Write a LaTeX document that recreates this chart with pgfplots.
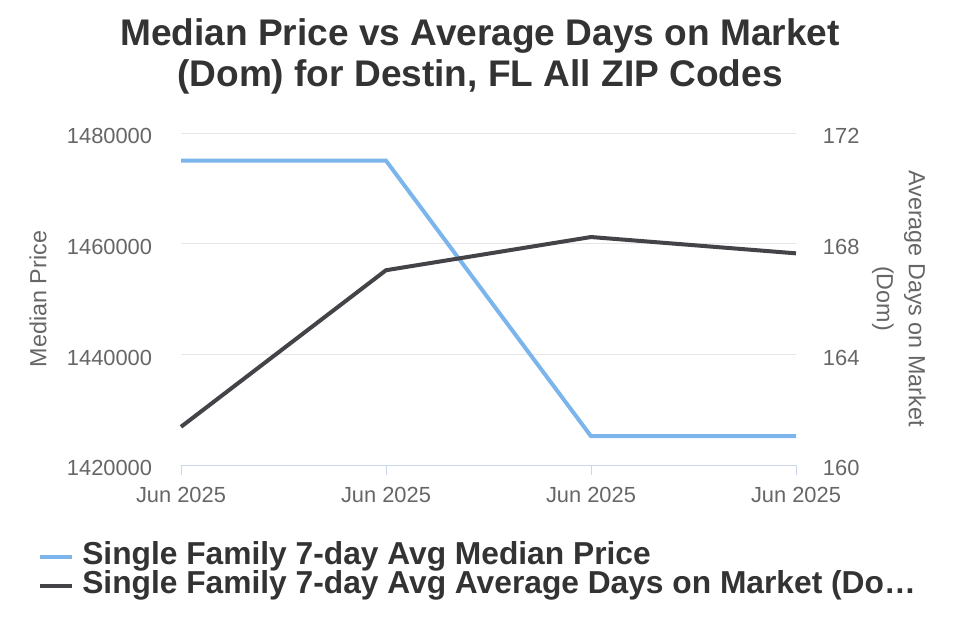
\documentclass[border=0pt]{standalone}
\usepackage{pgfplots}
\pgfplotsset{compat=1.18}
\usepackage{fontspec}
\setmainfont{Liberation Sans}
\definecolor{hcblue}{HTML}{7CB5EC}
\definecolor{hcdark}{HTML}{434348}
\definecolor{titlec}{HTML}{333333}
\definecolor{labc}{HTML}{666666}
\definecolor{gridc}{HTML}{E6E6E6}
\definecolor{axc}{HTML}{CCD6EB}
\begin{document}
\begin{tikzpicture}
\useasboundingbox (0pt,0pt) rectangle (720pt,480pt);
\node[align=center, font=\fontsize{27.8pt}{30.75pt}\selectfont\bfseries, text=titlec] at (360pt,437.6pt)
  {Median Price vs Average Days on Market\\(Dom) for Destin, FL All ZIP Codes};
\begin{axis}[
  at={(135.75pt,131.25pt)}, anchor=south west,
  scale only axis, width=461.25pt, height=249pt,
  xmin=0, xmax=3, ymin=1420000, ymax=1480000,
  xtick={0,1,2,3}, xticklabels={Jun 2025,Jun 2025,Jun 2025,Jun 2025},
  ytick={1420000,1440000,1460000,1480000},
  scaled y ticks=false,
  /pgf/number format/fixed, /pgf/number format/1000 sep={},
  /pgf/number format/assume math mode=true,
  axis x line*=bottom, axis y line*=left,
  x axis line style={draw=axc, line width=0.75pt, -},
  y axis line style={draw=none},
  ymajorgrids, grid style={draw=gridc, line width=0.75pt},
  tick align=outside,
  xtick style={draw=axc, line width=0.75pt}, major tick length=7.5pt,
  ytick style={draw=none},
  tick label style={font=\fontsize{16.4pt}{19pt}\selectfont, text=labc},
  xticklabel style={inner sep=0pt, anchor=north, yshift=-9pt},
  yticklabel style={inner sep=0pt, anchor=east, xshift=-14pt, yshift=-2.5pt},
  ylabel={Median Price},
  ylabel style={font=\fontsize{17.5pt}{21pt}\selectfont, text=labc, at={(axis description cs:-0.2325,0.5)}, anchor=center},
  clip=false,
]
\addplot[line width=3pt, hcblue] coordinates {(0,1475000) (1,1475000) (2,1425200) (3,1425200)};
\end{axis}
\begin{axis}[
  at={(135.75pt,131.25pt)}, anchor=south west,
  scale only axis, width=461.25pt, height=249pt,
  xmin=0, xmax=3, ymin=160, ymax=172,
  axis x line=none, axis y line*=right,
  y axis line style={draw=none},
  ytick={160,164,168,172},
  ytick style={draw=none},
  /pgf/number format/assume math mode=true,
  tick label style={font=\fontsize{16.4pt}{19pt}\selectfont, text=labc},
  yticklabel style={inner sep=0pt, anchor=west, xshift=20pt, yshift=-2.5pt},
  ylabel={Average Days on Market\\(Dom)},
  ylabel style={font=\fontsize{17.5pt}{24pt}\selectfont, text=labc, align=center, at={(axis description cs:1.1675,0.5015)}, anchor=center, rotate=180},
  clip=false,
  legend style={at={(axis description cs:-0.2325,-0.231)}, anchor=north west, draw=none, fill=none, inner sep=0pt,
    font=\fontsize{23.8pt}{24pt}\selectfont\bfseries, text=titlec,
    nodes={inner sep=0pt, text height=17pt, text depth=5.5pt, anchor=west},
    row sep=-0.75pt},
  legend cell align=left,
  legend image code/.code={\draw[line width=3pt, #1] (0pt,0pt) -- (24pt,0pt);},
]
\addlegendimage{hcblue}
\addlegendentry{\hspace{6pt}Single Family 7-day Avg Median Price}
\addlegendimage{hcdark}
\addlegendentry{\hspace{6pt}Single Family 7-day Avg Average Days on Market (Do…}
\addplot[line width=3pt, hcdark, forget plot] coordinates {(0,161.38) (1,167.04) (2,168.24) (3,167.65)};
\end{axis}
\end{tikzpicture}
\end{document}
